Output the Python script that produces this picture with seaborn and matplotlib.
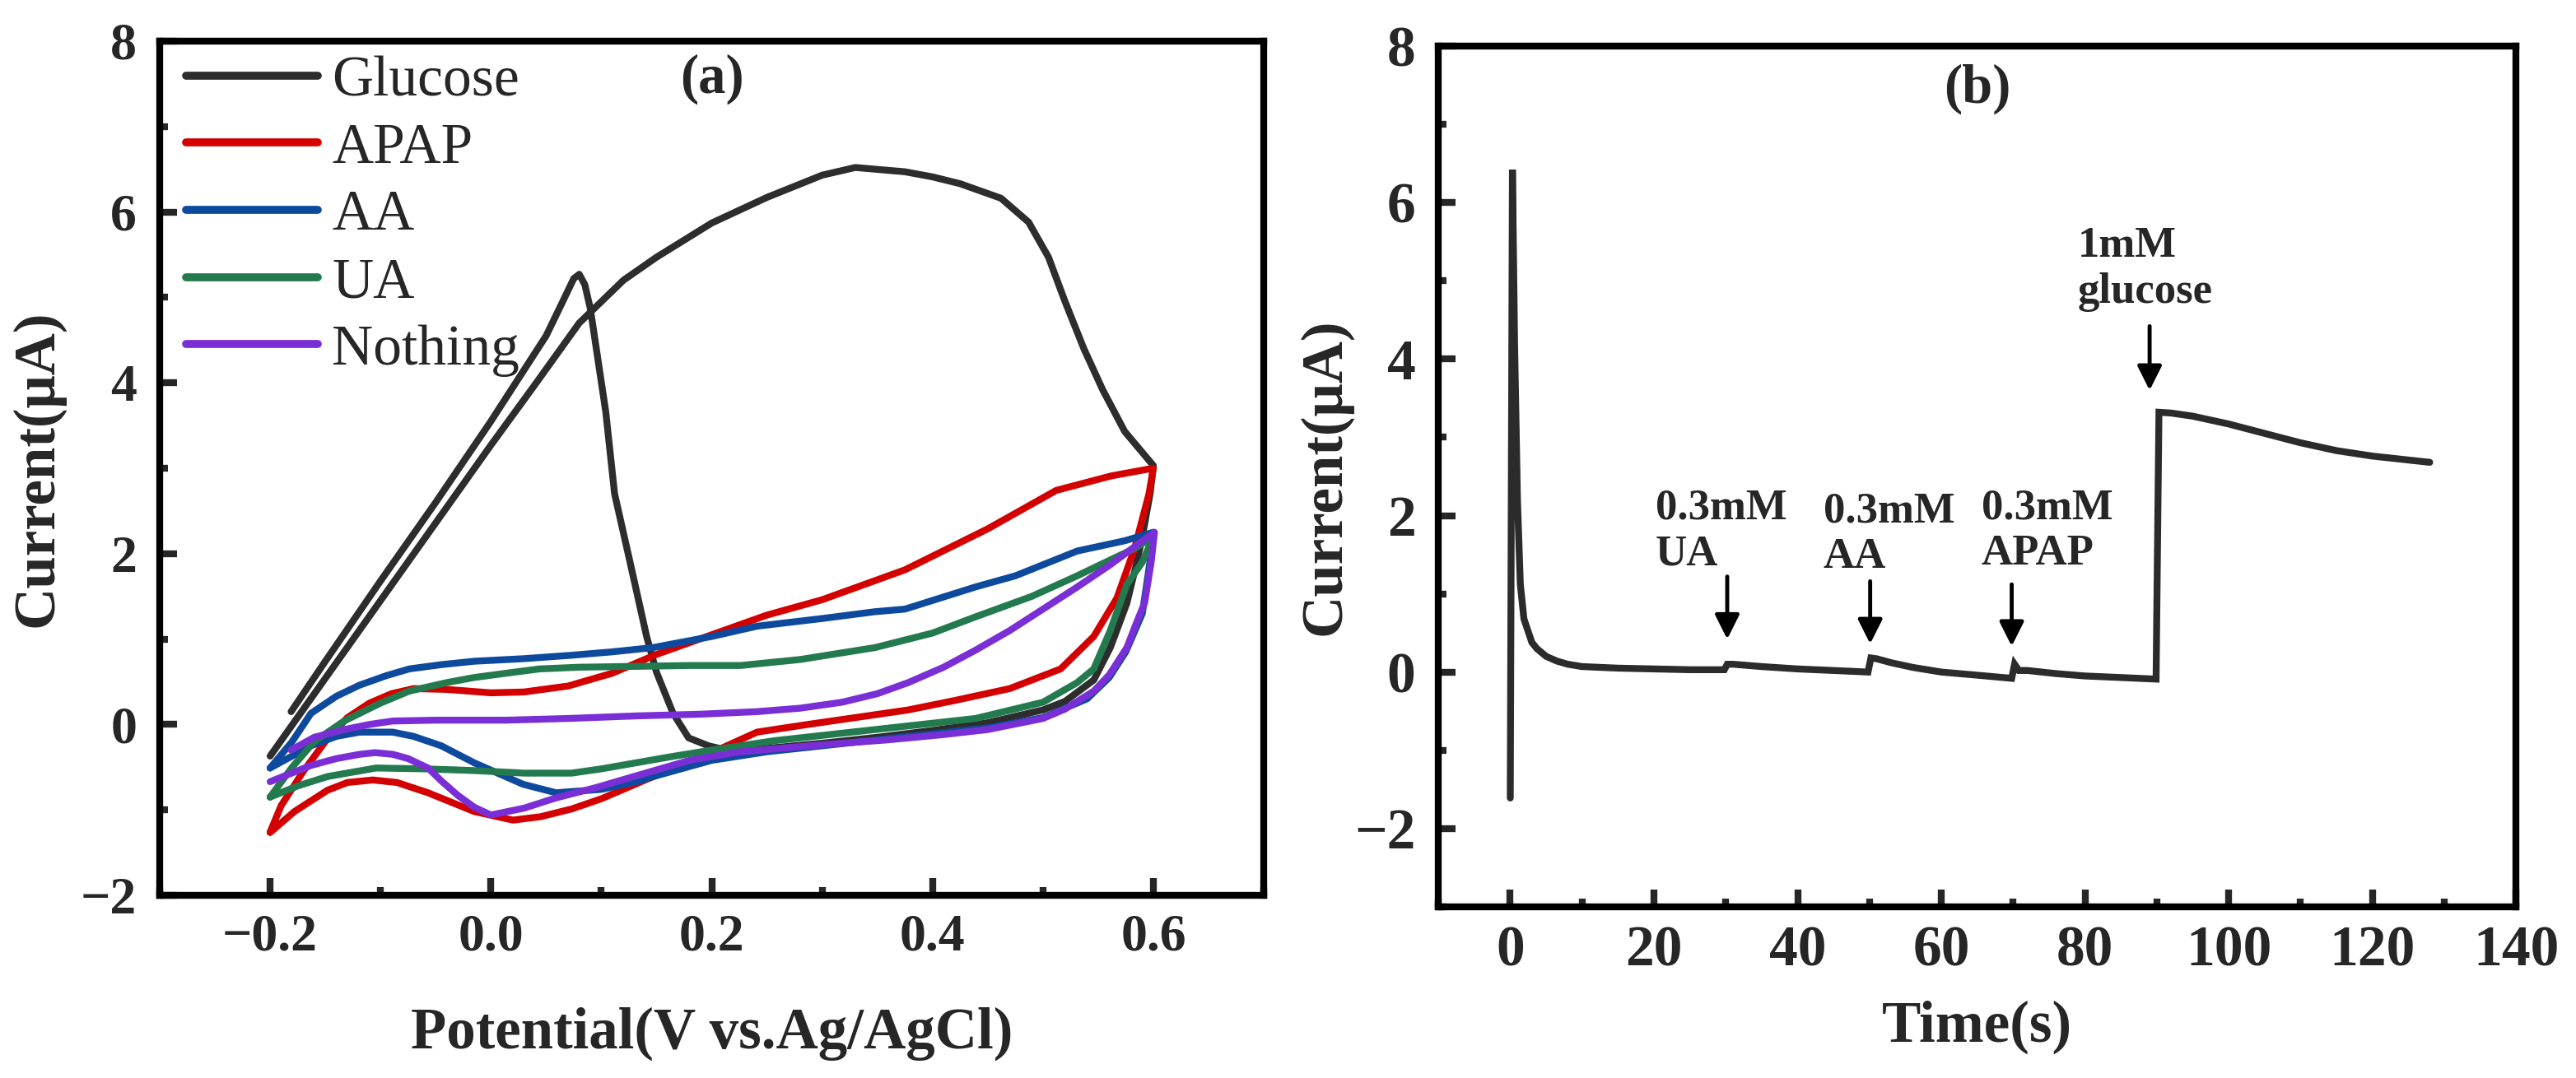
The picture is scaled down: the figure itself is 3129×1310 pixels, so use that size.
import pandas as pd
import matplotlib
matplotlib.use("Agg")
import matplotlib.pyplot as plt
from matplotlib.ticker import MultipleLocator
import seaborn as sns

# (a) cyclic voltammograms: forward scan followed by reverse scan
glucose_v = [-0.2, -0.15, -0.1, -0.05, 0.0, 0.04, 0.08, 0.12, 0.15, 0.2, 0.25, 0.3, 0.33, 0.375, 0.4,
             0.425, 0.462, 0.487, 0.505, 0.52, 0.537, 0.554, 0.574, 0.6,
             0.597, 0.59, 0.585, 0.576, 0.561, 0.546, 0.52, 0.5, 0.45, 0.4, 0.35, 0.3, 0.25, 0.21,
             0.197, 0.179, 0.165, 0.15, 0.141, 0.126, 0.112, 0.104, 0.09, 0.085, 0.08, 0.075, 0.065,
             0.05, 0.0, -0.05, -0.1, -0.15, -0.181]
glucose_i = [-0.37, 0.54, 1.45, 2.36, 3.27, 3.98, 4.7, 5.2, 5.47, 5.87, 6.17, 6.43, 6.52, 6.47, 6.41,
             6.33, 6.16, 5.88, 5.47, 4.95, 4.4, 3.92, 3.43, 3.03,
             2.7, 2.2, 1.9, 1.42, 0.9, 0.52, 0.27, 0.17, 0.02, -0.07, -0.15, -0.22, -0.28, -0.29,
             -0.25, -0.157, 0.13, 0.61, 1.03, 1.9, 2.7, 3.66, 4.87, 5.15, 5.27, 5.22, 4.95,
             4.55, 3.55, 2.6, 1.68, 0.74, 0.15]

apap_v = [-0.2, -0.19, -0.17, -0.15, -0.13, -0.11, -0.09, -0.07, -0.04, 0.0, 0.03, 0.07, 0.11, 0.15,
          0.2, 0.25, 0.3, 0.33, 0.375, 0.45, 0.512, 0.562, 0.6,
          0.596, 0.583, 0.567, 0.546, 0.516, 0.47, 0.42, 0.378, 0.33, 0.287, 0.241, 0.2, 0.147,
          0.1, 0.073, 0.045, 0.02, -0.015, -0.057, -0.085, -0.107, -0.13, -0.148, -0.178, -0.2]
apap_i = [-1.26, -0.95, -0.55, -0.2, 0.08, 0.25, 0.36, 0.42, 0.41, 0.37, 0.38, 0.45, 0.6, 0.82,
          1.05, 1.28, 1.46, 1.6, 1.81, 2.29, 2.74, 2.91, 3.0,
          2.7, 2.06, 1.48, 1.03, 0.65, 0.42, 0.28, 0.17, 0.08, 0.0, -0.09, -0.33, -0.61,
          -0.87, -0.99, -1.08, -1.12, -1.02, -0.8, -0.68, -0.65, -0.68, -0.77, -1.02, -1.265]

aa_v = [-0.2, -0.18, -0.163, -0.14, -0.119, -0.095, -0.074, -0.045, -0.015, 0.03, 0.073, 0.11, 0.147,
        0.2, 0.241, 0.3, 0.348, 0.375, 0.439, 0.475, 0.531, 0.574, 0.6,
        0.598, 0.59, 0.575, 0.56, 0.54, 0.5, 0.45, 0.4, 0.35, 0.3, 0.25, 0.2, 0.15, 0.132, 0.1,
        0.059, 0.029, -0.015, -0.045, -0.07, -0.089, -0.119, -0.14, -0.163, -0.2]
aa_i = [-0.51, -0.2, 0.13, 0.33, 0.46, 0.57, 0.65, 0.7, 0.74, 0.77, 0.81, 0.85, 0.9,
        1.03, 1.15, 1.24, 1.32, 1.35, 1.61, 1.74, 2.03, 2.15, 2.25,
        2.0, 1.3, 0.85, 0.55, 0.3, 0.08, -0.04, -0.11, -0.18, -0.25, -0.32, -0.42, -0.6, -0.67, -0.76,
        -0.8, -0.7, -0.45, -0.25, -0.14, -0.09, -0.09, -0.14, -0.25, -0.51]

ua_v = [-0.2, -0.18, -0.16, -0.133, -0.1, -0.074, -0.04, -0.015, 0.02, 0.044, 0.08, 0.132, 0.18,
        0.226, 0.28, 0.348, 0.4, 0.439, 0.49, 0.531, 0.56, 0.583, 0.6,
        0.59, 0.576, 0.561, 0.546, 0.531, 0.5, 0.439, 0.348, 0.257, 0.2, 0.162, 0.1, 0.073, 0.03,
        -0.015, -0.06, -0.104, -0.148, -0.175, -0.2]
ua_i = [-0.85, -0.5, -0.2, 0.04, 0.25, 0.39, 0.49, 0.55, 0.61, 0.65, 0.67, 0.68, 0.69,
        0.69, 0.76, 0.9, 1.07, 1.26, 1.5, 1.74, 1.92, 2.06, 2.2,
        1.9, 1.64, 1.1, 0.65, 0.49, 0.26, 0.07, -0.06, -0.19, -0.3, -0.38, -0.52, -0.57, -0.57,
        -0.54, -0.52, -0.51, -0.61, -0.72, -0.85]

nothing_v = [-0.181, -0.16, -0.133, -0.11, -0.089, -0.05, 0.014, 0.07, 0.132, 0.19, 0.241, 0.28, 0.318,
             0.35, 0.378, 0.41, 0.439, 0.47, 0.5, 0.53, 0.561, 0.585, 0.601,
             0.598, 0.592, 0.585, 0.576, 0.56, 0.546, 0.52, 0.5, 0.45, 0.409, 0.36, 0.318, 0.27,
             0.226, 0.18, 0.132, 0.095, 0.059, 0.03, 0.0, -0.015, -0.03, -0.045, -0.057, -0.075,
             -0.089, -0.105, -0.119, -0.14, -0.163, -0.2]
nothing_i = [-0.3, -0.15, -0.06, 0.0, 0.04, 0.05, 0.05, 0.07, 0.1, 0.12, 0.15, 0.19, 0.26,
             0.36, 0.49, 0.67, 0.87, 1.1, 1.35, 1.6, 1.87, 2.1, 2.25,
             1.9, 1.42, 1.2, 0.9, 0.58, 0.39, 0.18, 0.07, -0.06, -0.12, -0.18, -0.22, -0.27,
             -0.32, -0.42, -0.6, -0.74, -0.86, -0.98, -1.06, -0.97, -0.83, -0.66, -0.51, -0.4,
             -0.35, -0.33, -0.35, -0.4, -0.48, -0.67]

species = ["Glucose", "APAP", "AA", "UA", "Nothing"]
colors = ["#2d2d2d", "#d40000", "#0d4a9e", "#237a4e", "#7a2fd6"]

# (b) amperometric response, additions at 30, 50, 70 and 90 s
time_s = [0.0, 0.3, 0.6, 1.0, 1.4, 1.9, 3.0, 3.7, 5.0, 6.5, 8.0, 10.0, 15.0, 20.0, 25.0, 29.8,
          30.2, 31.0, 35.0, 40.0, 45.0, 49.8, 50.2, 51.0, 53.0, 56.0, 60.0, 65.0, 69.8,
          70.2, 70.8, 72.0, 76.0, 80.0, 85.0, 89.9, 90.3, 92.0, 95.0, 100.0, 105.0, 110.0,
          115.0, 120.0, 125.0, 128.0]
current_b = [-1.61, 6.42, 4.2, 2.2, 1.12, 0.68, 0.38, 0.3, 0.2, 0.14, 0.1, 0.07, 0.05, 0.04, 0.03, 0.03,
             0.1, 0.1, 0.07, 0.04, 0.02, 0.0, 0.18, 0.17, 0.12, 0.06, 0.0, -0.04, -0.08,
             0.1, 0.02, 0.02, -0.02, -0.05, -0.07, -0.09, 3.32, 3.31, 3.27, 3.17, 3.05, 2.93,
             2.83, 2.76, 2.71, 2.68]

add_labels = ["0.3mM\nUA", "0.3mM\nAA", "0.3mM\nAPAP", "1mM\nglucose"]
add_times = [30.2, 50.1, 69.8, 89.0]

sns.set_theme(style="ticks")
plt.rcParams["font.family"] = ["Liberation Serif", "DejaVu Serif"]
plt.rcParams["font.weight"] = "bold"
plt.rcParams["axes.labelweight"] = "bold"

rows = []
for name, vs, cs in zip(species, [glucose_v, apap_v, aa_v, ua_v, nothing_v],
                        [glucose_i, apap_i, aa_i, ua_i, nothing_i]):
    for k, (v, c) in enumerate(zip(vs, cs)):
        rows.append({"species": name, "step": k, "potential": v, "current": c})
cv = pd.DataFrame(rows)

it = pd.DataFrame({"time": time_s, "current": current_b})

fig = plt.figure(figsize=(31.29, 13.1), dpi=100)
fig.patch.set_facecolor("white")
ax1 = fig.add_axes([0.0620, 0.1695, 0.4286, 0.7924])
ax2 = fig.add_axes([0.5584, 0.1588, 0.4183, 0.7985])

# panel (a)
sns.lineplot(data=cv, x="potential", y="current", hue="species", hue_order=species,
             palette=colors, sort=False, estimator=None, linewidth=6,
             solid_joinstyle="round", solid_capstyle="round", ax=ax1)
ax1.set_xlim(-0.3, 0.7)
ax1.set_ylim(-2, 8)
ax1.xaxis.set_major_locator(MultipleLocator(0.2))
ax1.xaxis.set_minor_locator(MultipleLocator(0.1))
ax1.yaxis.set_major_locator(MultipleLocator(2))
ax1.yaxis.set_minor_locator(MultipleLocator(1))
ax1.set_xlabel("Potential(V vs.Ag/AgCl)", fontsize=51, labelpad=40)
ax1.set_ylabel("Current(μA)", fontsize=51, labelpad=14)
ax1.tick_params(axis="both", which="major", direction="in", length=15, width=6,
                labelsize=46, pad=16)
ax1.tick_params(axis="y", which="major", pad=20)
ax1.tick_params(axis="both", which="minor", direction="in", length=7, width=6)
ax1.text(0.2, 7.55, "(a)", fontsize=48, ha="center", va="center")

old = ax1.get_legend()
handles = old.legend_handles
labels = [t.get_text() for t in old.get_texts()]
leg = ax1.legend(handles, labels, loc="upper left", bbox_to_anchor=(-0.02, 1.04), frameon=False,
                 prop={"family": "Liberation Serif", "weight": "normal", "size": 50},
                 handlelength=2.3, handletextpad=0.25, labelspacing=0.26, borderpad=0.35)
for line in leg.get_lines():
    line.set_linewidth(7)

# panel (b)
sns.lineplot(data=it, x="time", y="current", color="#2b2b2b", linewidth=6, sort=False,
             estimator=None, solid_joinstyle="miter", ax=ax2)
ax2.set_xlim(-10, 140)
ax2.set_ylim(-3, 8)
ax2.xaxis.set_major_locator(MultipleLocator(20))
ax2.xaxis.set_minor_locator(MultipleLocator(10))
ax2.yaxis.set_major_locator(MultipleLocator(2))
ax2.yaxis.set_minor_locator(MultipleLocator(1))
ax2.set_xlabel("Time(s)", fontsize=51, labelpad=20)
ax2.set_ylabel("Current(μA)", fontsize=51, labelpad=2)
ax2.tick_params(axis="both", which="major", direction="in", length=15, width=6,
                labelsize=50, pad=16)
ax2.tick_params(axis="y", which="major", pad=20)
ax2.tick_params(axis="both", which="minor", direction="in", length=7, width=6)
ax2.text(65, 7.45, "(b)", fontsize=48, ha="center", va="center")

text_x = [20.2, 43.6, 65.6, 79.0]
text_y = [1.8, 1.76, 1.8, 5.15]
arrow_top = [1.22, 1.16, 1.12, 4.42]
arrow_tip = [0.42, 0.36, 0.33, 3.6]
for lab, tx, ty, ta, top, tip in zip(add_labels, add_times, text_y, text_x, arrow_top, arrow_tip):
    ax2.text(ta, ty, lab, fontsize=38, ha="left", va="center", linespacing=1.2)
    ax2.annotate("", xy=(tx, tip), xytext=(tx, top),
                 arrowprops=dict(arrowstyle="-|>", color="black", lw=3.5, mutation_scale=45,
                                 shrinkA=0, shrinkB=0))

for ax in (ax1, ax2):
    for side in ("top", "right", "bottom", "left"):
        ax.spines[side].set_linewidth(6)
        ax.spines[side].set_color("black")
    ax.set_facecolor("white")

fig.savefig("out.png", dpi=100, facecolor="white")
